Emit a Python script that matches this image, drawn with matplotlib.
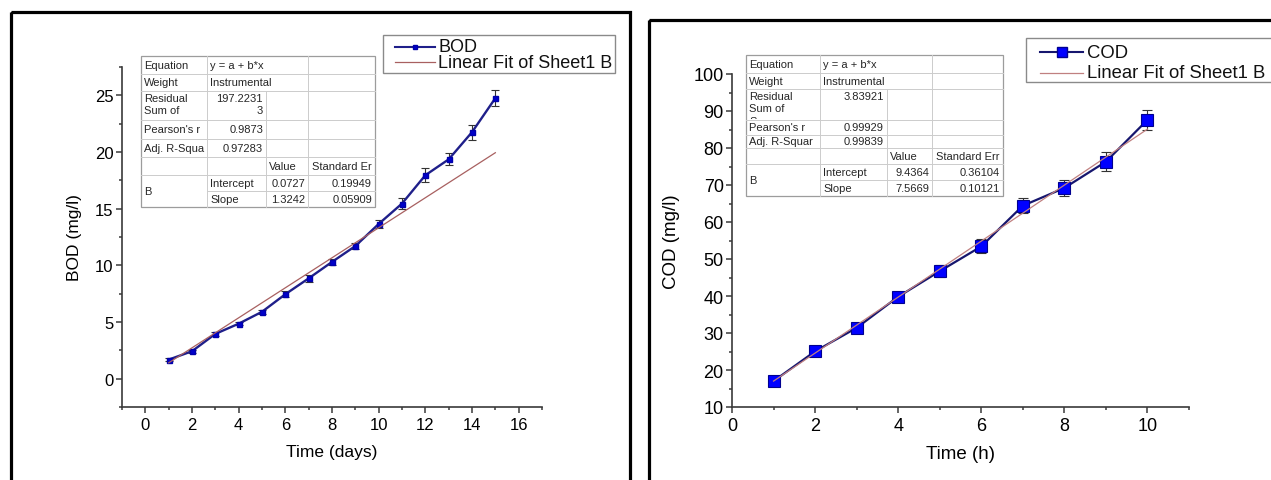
import numpy as np
import matplotlib.pyplot as plt
from matplotlib.patches import Rectangle
from matplotlib.lines import Line2D
from matplotlib.ticker import MultipleLocator

plt.rcParams['font.family'] = ['Liberation Sans', 'DejaVu Sans']

W, H = 1271, 481

# BOD over days
days = np.arange(1, 16)
bod = [1.68, 2.42, 3.95, 4.85, 5.9, 7.45, 8.85, 10.3, 11.7, 13.65, 15.45, 17.95, 19.35, 21.75, 24.75]
bod_err = [0.1, 0.15, 0.15, 0.12, 0.15, 0.25, 0.3, 0.3, 0.3, 0.35, 0.5, 0.6, 0.53, 0.66, 0.7]

# COD over hours
hours = np.arange(1, 11)
cod = [17.0, 25.05, 31.4, 39.8, 46.7, 53.4, 64.4, 69.2, 76.3, 87.6]
cod_err = [0.6, 0.8, 1.0, 1.2, 1.6, 1.9, 2.0, 2.1, 2.5, 2.7]

# linear fit reports
bod_stat_names = ["Equation", "Weight", "Residual\nSum of\nSquares", "Pearson's r", "Adj. R-Squa"]
bod_stat_values = ["y = a + b*x", "Instrumental", "197.2231\n3", "0.9873", "0.97283"]
bod_header = ["Value", "Standard Er"]
bod_coef = [0.0727, 1.3242]
bod_coef_err = [0.19949, 0.05909]

cod_stat_names = ["Equation", "Weight", "Residual\nSum of\nSquares", "Pearson's r", "Adj. R-Squar"]
cod_stat_values = ["y = a + b*x", "Instrumental", "3.83921", "0.99929", "0.99839"]
cod_header = ["Value", "Standard Err"]
cod_coef = [9.4364, 7.5669]
cod_coef_err = [0.36104, 0.10121]

param_names = ["Intercept", "Slope"]

line_col = '#1f1f8a'
fit_col = '#a86060'


def px(x0, y0, x1, y1):
    # pixel box -> figure fraction rect
    return [x0 / W, 1 - y1 / H, (x1 - x0) / W, (y1 - y0) / H]


def style_axes(ax, fs):
    for s in ['top', 'right']:
        ax.spines[s].set_visible(False)
    for s in ['left', 'bottom']:
        ax.spines[s].set_color('#3a3a3a')
        ax.spines[s].set_linewidth(1.2)
    ax.tick_params(which='both', direction='out', color='#3a3a3a', width=1.1, labelsize=fs)
    ax.tick_params(which='major', length=4.5)
    ax.tick_params(which='minor', length=2.5)
    ax.tick_params(axis='y', pad=1.5)
    ax.tick_params(axis='x', pad=3)


def fit_table(ax, xs, ys, names, values, header, coef, coef_err):
    x0, x1, x2, x3, x4 = xs
    ax.add_patch(Rectangle((x0, ys[0]), x4 - x0, ys[-1] - ys[0], fc='white', ec='#9c9c9c', lw=0.9))
    grid = dict(color='#cccccc', lw=0.7)
    for i, y in enumerate(ys[1:-1], start=1):
        left = x1 if i == 7 else x0
        ax.plot([left, x4], [y, y], **grid)
    ax.plot([x1, x1], [ys[0], ys[-1]], **grid)
    ax.plot([x2, x2], [ys[2], ys[-1]], **grid)
    ax.plot([x3, x3], [ys[0], ys[-1]], **grid)

    txt = dict(fontsize=8, color='#262626')
    for i, (n, v) in enumerate(zip(names, values)):
        yc = (ys[i] + ys[i + 1]) / 2
        if '\n' in n:
            # multi-line cell, cut at the row border
            clip = Rectangle((x0, ys[i]), x4 - x0, ys[i + 1] - ys[i] - 1, transform=ax.transData)
            t = ax.text(x0 + 3, ys[i] + 2, n, va='top', linespacing=1.3, **txt)
            t.set_clip_path(clip)
            t.set_clip_on(True)
            ax.text(x2 - 3, ys[i] + 2, v, va='top', ha='right', linespacing=1.3, **txt)
            continue
        ax.text(x0 + 3, yc, n, va='center', **txt)
        if i < 2:
            ax.text(x1 + 3, yc, v, va='center', **txt)
        else:
            ax.text(x2 - 3, yc, v, va='center', ha='right', **txt)
    yc = (ys[5] + ys[6]) / 2
    ax.text(x2 + 3, yc, header[0], va='center', **txt)
    ax.text(x4 - 3, yc, header[1], va='center', ha='right', **txt)
    ax.text(x0 + 3, ys[7], "B", va='center', **txt)
    for k in range(2):
        yc = (ys[6 + k] + ys[7 + k]) / 2
        ax.text(x1 + 3, yc, param_names[k], va='center', **txt)
        ax.text(x3 - 3, yc, str(coef[k]), va='center', ha='right', **txt)
        ax.text(x4 - 3, yc, str(coef_err[k]), va='center', ha='right', **txt)


def legend_box(ax, box, x_line, x_text, rows, fs):
    ax.add_patch(Rectangle((box[0], box[1]), box[2] - box[0], box[3] - box[1],
                           fc='white', ec='#8a8a8a', lw=1.0))
    for y, label, kw in rows:
        xm = (x_line[0] + x_line[1]) / 2
        ax.add_line(Line2D([x_line[0], xm, x_line[1]], [y, y, y], markevery=[1], **kw))
        ax.text(x_text, y, label, fontsize=fs, va='center', color='#111111')


fig = plt.figure(figsize=(W / 100, H / 100), dpi=100)

# ---- BOD panel ----
ax1 = fig.add_axes(px(122, 68, 542, 408))
ax1.errorbar(days, bod, yerr=bod_err, fmt='none', ecolor='#333333', elinewidth=0.8,
             capsize=3, capthick=0.8, zorder=2)
ax1.plot(days, bod, '-s', color=line_col, lw=1.7, ms=3.6, mfc='#0000cc', mec='#0000aa', zorder=3)
fit_x = np.array([days[0], days[-1]])
ax1.plot(fit_x, bod_coef[0] + bod_coef[1] * fit_x, color=fit_col, lw=0.9, zorder=4)
ax1.set_xlim(-1, 17)
ax1.set_ylim(-2.5, 27.5)
ax1.xaxis.set_major_locator(MultipleLocator(2))
ax1.xaxis.set_minor_locator(MultipleLocator(1))
ax1.yaxis.set_major_locator(MultipleLocator(5))
ax1.yaxis.set_minor_locator(MultipleLocator(2.5))
style_axes(ax1, 12)
ax1.set_xlabel('Time (days)', fontsize=12.5, va='center')
ax1.set_ylabel('BOD (mg/l)', fontsize=12.5, va='center')
ax1.xaxis.set_label_coords(0.5, -0.132)
ax1.yaxis.set_label_coords(-0.112, 0.5)

# ---- COD panel ----
ax2 = fig.add_axes(px(732, 75, 1189, 408))
ax2.errorbar(hours, cod, yerr=cod_err, fmt='none', ecolor='#333333', elinewidth=0.8,
             capsize=3.5, capthick=0.8, zorder=2)
ax2.plot(hours, cod, '-s', color='#16166e', lw=1.6, ms=8.3, mfc='#0000ff', mec='#000090',
         mew=0.8, zorder=3)
fit_x2 = np.array([hours[0], hours[-1]])
ax2.plot(fit_x2, cod_coef[0] + cod_coef[1] * fit_x2, color='#c08080', lw=0.9, zorder=4)
ax2.set_xlim(0, 11)
ax2.set_ylim(10, 100)
ax2.xaxis.set_major_locator(MultipleLocator(2))
ax2.xaxis.set_minor_locator(MultipleLocator(1))
ax2.yaxis.set_major_locator(MultipleLocator(10))
ax2.yaxis.set_minor_locator(MultipleLocator(5))
style_axes(ax2, 13)
ax2.set_xlabel('Time (h)', fontsize=13.5, va='center')
ax2.set_ylabel('COD (mg/l)', fontsize=13.5, va='center')
ax2.xaxis.set_label_coords(0.5, -0.141)
ax2.yaxis.set_label_coords(-0.133, 0.5)

# ---- overlay in pixel units: frames, fit tables, legends ----
ov = fig.add_axes([0, 0, 1, 1])
ov.set_xlim(0, W)
ov.set_ylim(H, 0)
ov.axis('off')

ov.add_patch(Rectangle((11, 13), 619, 520, fill=False, ec='black', lw=2.3))
ov.add_patch(Rectangle((649, 21), 700, 520, fill=False, ec='black', lw=2.3))

fit_table(ov, [141, 207, 266, 308, 375], [57, 75, 92, 121, 140, 158, 176, 192, 208],
          bod_stat_names, bod_stat_values, bod_header, bod_coef, bod_coef_err)
fit_table(ov, [746, 820, 887, 932, 1003], [56, 74, 90, 121, 136, 149, 165, 181, 197],
          cod_stat_names, cod_stat_values, cod_header, cod_coef, cod_coef_err)

legend_box(ov, (383, 36, 615, 74), (395, 435), 438,
           [(48, 'BOD', dict(color=line_col, lw=1.5, marker='s', ms=3, mfc='#0000cc', mec='#0000aa')),
            (63, 'Linear Fit of Sheet1 B', dict(color=fit_col, lw=0.9))], 13)
legend_box(ov, (1026, 39, 1300, 83), (1040, 1083), 1087,
           [(53, 'COD', dict(color='#16166e', lw=1.5, marker='s', ms=7, mfc='#0000ff', mec='#000090')),
            (74, 'Linear Fit of Sheet1 B', dict(color='#c08080', lw=0.9))], 13.3)

fig.savefig('out.png', dpi=100)
